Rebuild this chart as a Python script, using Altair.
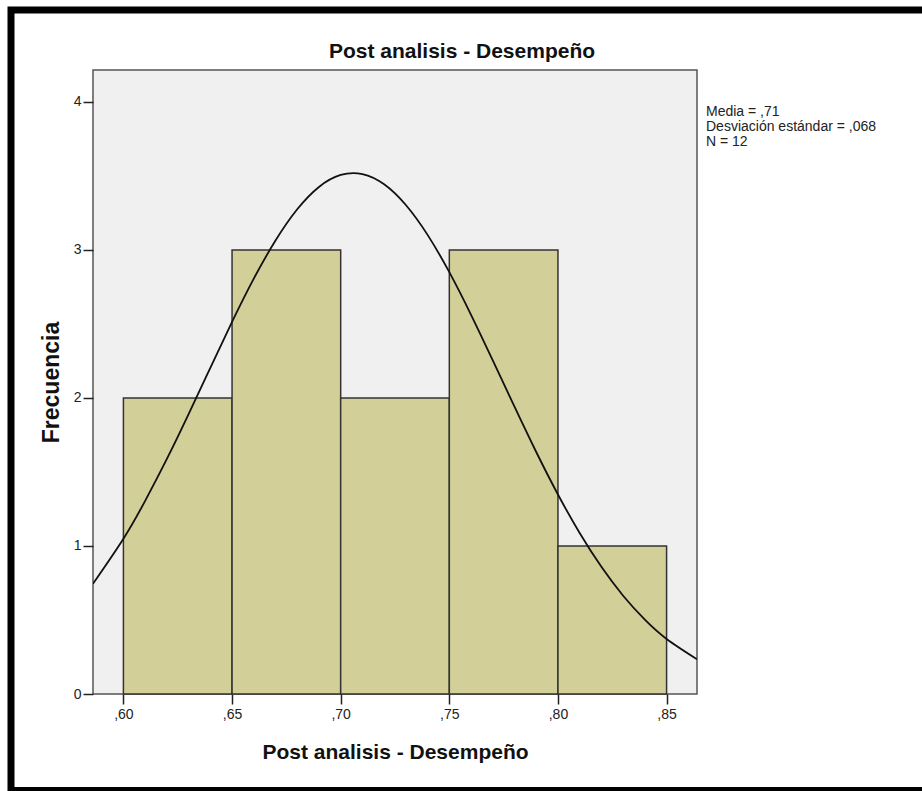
import altair as alt
import pandas as pd

# Histogram bins and counts
bin_start = [0.60, 0.65, 0.70, 0.75, 0.80]
bin_end = [0.65, 0.70, 0.75, 0.80, 0.85]
counts = [2, 3, 2, 3, 1]

# Normal curve
curve_x = [0.586, 0.60, 0.61, 0.62, 0.63, 0.64, 0.65, 0.66, 0.67, 0.68, 0.69, 0.70,
           0.71, 0.72, 0.73, 0.74, 0.75, 0.76, 0.77, 0.78, 0.79, 0.80, 0.81, 0.82,
           0.83, 0.84, 0.85, 0.864]
curve_y = [0.745, 1.049, 1.305, 1.588, 1.891, 2.204, 2.514, 2.806, 3.064, 3.275, 3.426, 3.507,
           3.513, 3.444, 3.304, 3.102, 2.850, 2.562, 2.254, 1.941, 1.635, 1.348, 1.088, 0.859,
           0.664, 0.502, 0.372, 0.235]

x_ticks = [0.60, 0.65, 0.70, 0.75, 0.80, 0.85]
y_ticks = [0, 1, 2, 3, 4]
stats_lines = ["Media = ,71", "Desviación estándar = ,068", "N = 12"]
title_text = "Post analisis - Desempeño"
x_title = "Post analisis - Desempeño"
y_title = "Frecuencia"

W, H = 604, 624
FONT = "Liberation Sans"

bars = pd.DataFrame({"start": bin_start, "end": bin_end, "count": counts})
curve = pd.DataFrame({"x": curve_x, "y": curve_y})

xscale = alt.Scale(domain=[0.586, 0.864], nice=False, zero=False)
yscale = alt.Scale(domain=[0, 4.216], nice=False)

xaxis = alt.Axis(
    values=x_ticks,
    labelExpr="replace(format(datum.value, '.2f'), '0.', ',')",
    title=x_title, titleFont=FONT, titleFontSize=21, titleFontWeight="bold",
    titleColor="#111", titleX=W / 2, titleY=64, titleBaseline="alphabetic",
    labelFont=FONT, labelFontSize=14, labelColor="#222", labelPadding=3,
    tickSize=10, tickColor="#222", tickWidth=1.5, domain=False, grid=False,
)
yaxis = alt.Axis(
    values=y_ticks, format="d",
    title=y_title, titleFont=FONT, titleFontSize=23, titleFontWeight="bold",
    titleColor="#111", titleX=-35, titleY=H / 2, titleAngle=270,
    titleBaseline="alphabetic", titleAlign="center",
    labelFont=FONT, labelFontSize=14, labelColor="#222", labelPadding=2,
    tickSize=10, tickColor="#222", tickWidth=1.5, domain=False, grid=False,
)

hist = alt.Chart(bars).mark_rect(
    fill="#d3cf98", stroke="#333", strokeWidth=1.5
).encode(
    x=alt.X("start:Q", scale=xscale, axis=xaxis),
    x2="end:Q",
    y=alt.Y("count:Q", scale=yscale, axis=yaxis),
    y2=alt.datum(0),
)

line = alt.Chart(curve).mark_line(
    color="#111", strokeWidth=1.8, interpolate="natural", clip=True
).encode(
    x=alt.X("x:Q", scale=xscale),
    y=alt.Y("y:Q", scale=yscale),
)

one = pd.DataFrame({"k": [0]})

stats = alt.Chart(one).mark_text(
    text=stats_lines, align="left", baseline="alphabetic", font=FONT,
    fontSize=14, lineHeight=15, color="#222"
).encode(x=alt.value(613), y=alt.value(46))

title = alt.Chart(one).mark_text(
    text=title_text, align="center", baseline="alphabetic", font=FONT,
    fontSize=21, fontWeight="bold", color="#111"
).encode(x=alt.value(369), y=alt.value(-12))

frame = alt.Chart(one).mark_rect(
    fill=None, stroke="black", strokeWidth=7, clip=False
).encode(x=alt.value(-82), x2=alt.value(840), y=alt.value(-60), y2=alt.value(720.5))

chart = alt.layer(hist, line, stats, title, frame).properties(
    width=W, height=H,
    background="white",
    autosize=alt.AutoSizeParams(type="none"),
    padding={"left": 93, "top": 70, "right": 225, "bottom": 97},
).configure_view(
    fill="#f0f0f0", stroke="#555", strokeWidth=1.5
)

chart.save("out.html", embed_options={"renderer": "svg", "actions": False})
